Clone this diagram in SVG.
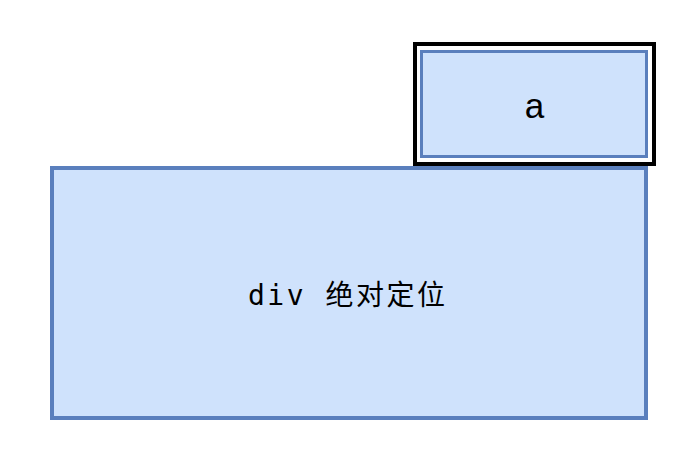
<svg xmlns="http://www.w3.org/2000/svg" width="688" height="462" viewBox="0 0 688 462">
  <style>
    .box { fill: #cfe2fc; stroke: #5a7fbd; }
    .frame { fill: none; stroke: #000000; stroke-width: 4; }
    .mono { font-family: "DejaVu Sans Mono", "Liberation Mono", "Noto Sans CJK SC", monospace; fill: #000; }
    .cjk { font-family: "Noto Sans CJK SC", sans-serif; }
    .sans { font-family: "Liberation Sans", "Noto Sans CJK SC", sans-serif; fill: #000; }
  </style>
  <rect width="688" height="462" fill="#ffffff"/>
  <g id="connectors"></g>
  <g id="div-node">
    <rect class="box" x="52" y="168" width="594" height="250" stroke-width="4"/>
    <text class="mono" x="248" y="305" font-size="28" letter-spacing="2.5">div <tspan class="cjk">绝对定位</tspan></text>
  </g>
  <g id="a-node">
    <rect class="frame" x="415" y="44" width="239" height="120"/>
    <rect class="box" x="421.5" y="51.5" width="225" height="105" stroke-width="3"/>
    <text class="sans" x="534.5" y="118" font-size="35" text-anchor="middle">a</text>
  </g>
</svg>
